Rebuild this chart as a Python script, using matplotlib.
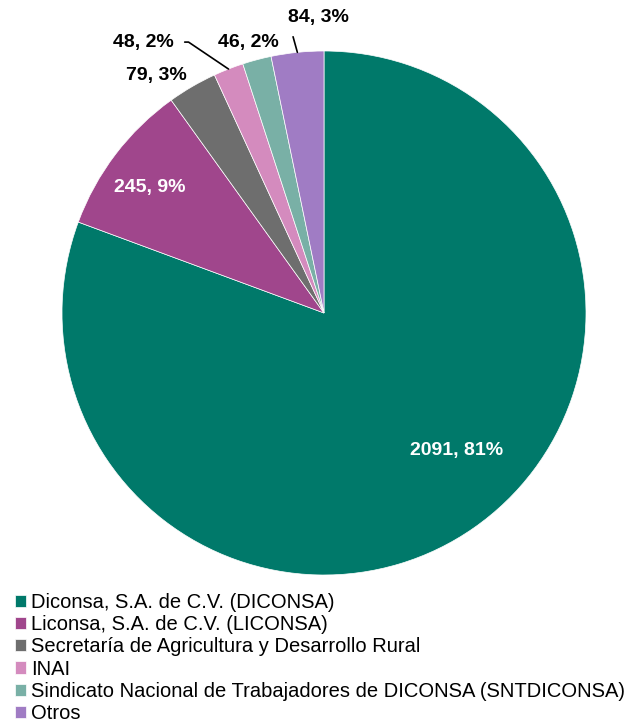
import numpy as np
import matplotlib.pyplot as plt

plt.rcParams['font.family'] = ['Liberation Sans', 'DejaVu Sans']

# datos
categorias = ['Diconsa, S.A. de C.V. (DICONSA)',
              'Liconsa, S.A. de C.V. (LICONSA)',
              'Secretaría de Agricultura y Desarrollo Rural',
              'INAI',
              'Sindicato Nacional de Trabajadores de DICONSA (SNTDICONSA)',
              'Otros']
valores = [2091, 245, 79, 48, 46, 84]
porcentajes = [81, 9, 3, 2, 2, 3]
colores = ['#00796a', '#a0468c', '#6e6e6e', '#d48bbe', '#79b0a6', '#a07cc4']

fig = plt.figure(figsize=(6.33, 7.27), dpi=100)
ax = fig.add_axes([62 / 633, 1 - 575 / 727, 524 / 633, 524 / 727])

wedges, _ = ax.pie(valores, colors=colores, startangle=90, counterclock=False,
                   radius=1, wedgeprops=dict(linewidth=0.5, edgecolor='white'))
ax.set_xlim(-1, 1)
ax.set_ylim(-1, 1)
ax.set_aspect('equal')
ax.axis('off')

etiquetas = [f'{v}, {p}%' for v, p in zip(valores, porcentajes)]

# posiciones de las etiquetas: (radio, ajuste de angulo) dentro, o posicion externa
colocacion = [
    ('in', 0.73, 9.0),
    ('in', 0.82, 1.5),
    ('ext', (-0.641, 0.908)),
    ('ext', (-0.69, 1.034)),
    ('ext', (-0.29, 1.031)),
    ('ext', (-0.023, 1.128)),
]
# lineas guia: (relpos, conexion) o None
guias = [None, None, None,
         ((1.0, 0.5), 'angle,angleA=0,angleB=-34,rad=0'),
         None,
         ((0.03, 0.15), 'arc3')]

fs = 14
for i, (w, txt) in enumerate(zip(wedges, etiquetas)):
    ang = np.deg2rad((w.theta1 + w.theta2) / 2)
    c = colocacion[i]
    if c[0] == 'in':
        a = ang + np.deg2rad(c[2])
        ax.text(c[1] * np.cos(a), c[1] * np.sin(a), txt, ha='center', va='center',
                fontsize=fs, fontweight='bold', color='white')
    elif guias[i] is None:
        ax.text(c[1][0], c[1][1], txt, ha='center', va='center',
                fontsize=fs, fontweight='bold', color='black')
    else:
        rel, con = guias[i]
        ax.annotate(txt, xy=(np.cos(ang), np.sin(ang)), xytext=c[1],
                    ha='center', va='center', fontsize=fs, fontweight='bold',
                    annotation_clip=False,
                    arrowprops=dict(arrowstyle='-', color='black', lw=1.2,
                                    relpos=rel, shrinkA=6, shrinkB=0,
                                    connectionstyle=con))

fig.legend(wedges, categorias, loc='upper left', bbox_to_anchor=(15 / 633, 1 - 593 / 727),
           frameon=False, fontsize=14.5, handlelength=0.55, handleheight=0.55,
           handletextpad=0.25, labelspacing=0.16, borderaxespad=0, borderpad=0)

fig.savefig('out.png', dpi=100)
